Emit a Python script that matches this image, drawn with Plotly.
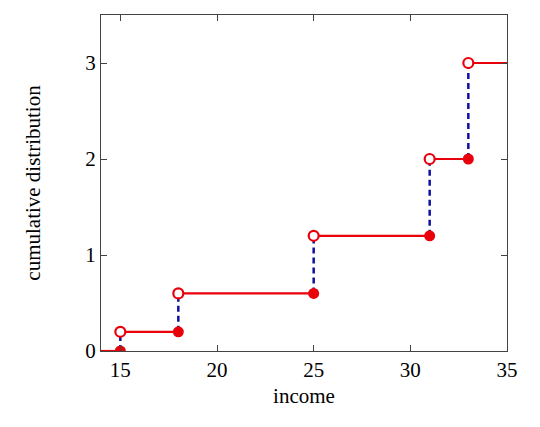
import plotly.graph_objects as go

# step positions and cumulative levels
jumps = [15, 18, 25, 31, 33]
levels = [0, 0.2, 0.6, 1.2, 2, 3]
x_min, x_max = 14, 35
x_ticks = [15, 20, 25, 30, 35]
y_ticks = [0, 1, 2, 3]

RED = '#e8000b'
BLUE = '#1010a0'

# horizontal pieces of the step function
edges = [x_min] + jumps + [x_max]
hx, hy = [], []
for i, lv in enumerate(levels):
    hx += [edges[i], edges[i + 1], None]
    hy += [lv, lv, None]

# dashed vertical jumps
vx, vy = [], []
for i, xj in enumerate(jumps):
    vx += [xj, xj, None]
    vy += [levels[i], levels[i + 1], None]

fig = go.Figure()
fig.add_trace(go.Scatter(x=vx, y=vy, mode='lines',
                         line=dict(color=BLUE, width=2.5, dash='6px,4px')))
fig.add_trace(go.Scatter(x=hx, y=hy, mode='lines',
                         line=dict(color=RED, width=2.2)))
fig.add_trace(go.Scatter(x=jumps, y=levels[:-1], mode='markers',
                         marker=dict(color=RED, size=11, line=dict(width=0))))
fig.add_trace(go.Scatter(x=jumps, y=levels[1:], mode='markers',
                         marker=dict(color='white', size=10,
                                     line=dict(color=RED, width=2.2))))

axis_style = dict(showgrid=False, zeroline=False, showline=True, mirror='ticks',
                  linecolor='#444444', linewidth=1, ticks='inside', ticklen=6,
                  tickcolor='#444444', tickfont=dict(size=21, color='black'))

fig.update_xaxes(range=[x_min, x_max], tickvals=x_ticks,
                 title=dict(text='income', font=dict(size=21, color='black'), standoff=7),
                 **axis_style)
fig.update_yaxes(range=[0, 3.5], tickvals=y_ticks,
                 title=dict(text='cumulative distribution', font=dict(size=21, color='black'),
                            standoff=38),
                 **axis_style)

# page body adds an 8px offset, so the figure is trimmed to fit the window
fig.update_layout(
    width=532, height=419,
    showlegend=False,
    plot_bgcolor='white', paper_bgcolor='white',
    font=dict(family='Liberation Serif', size=21, color='black'),
    margin=dict(l=93, r=33, t=7, b=76),
)

fig.write_html('out.html')
